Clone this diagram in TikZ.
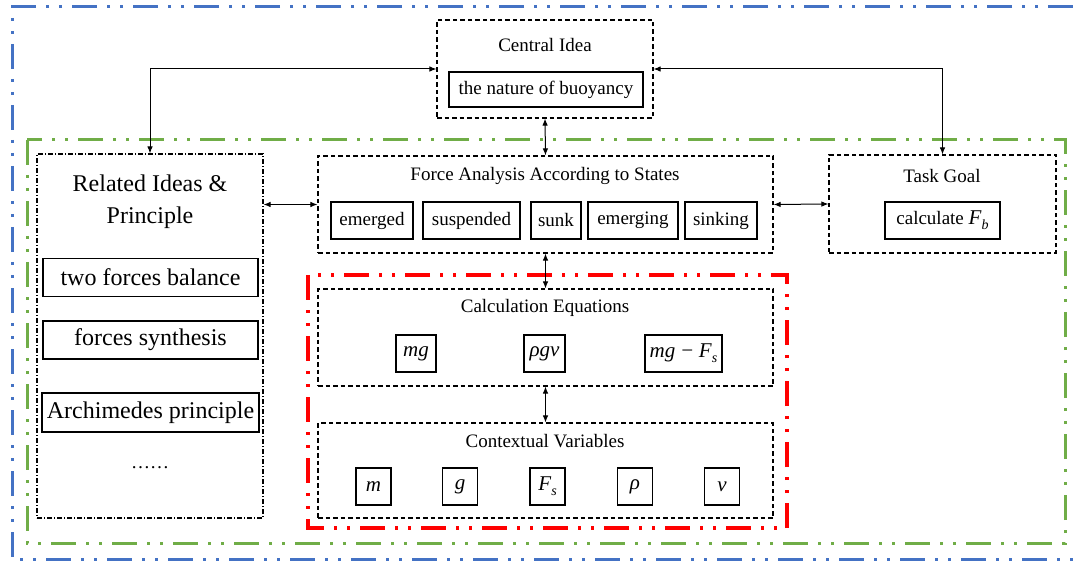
\documentclass[tikz,border=0pt]{standalone}
\usepackage{fontspec}
\setmainfont{Liberation Serif}
\usepackage{tikz}
\usetikzlibrary{arrows.meta}

\definecolor{frameblue}{RGB}{68,114,196}
\definecolor{framegreen}{RGB}{112,173,71}
\definecolor{framered}{RGB}{255,0,0}

\newcommand{\var}[1]{{\fontsize{21}{22}\selectfont\textit{#1}}}
\newcommand{\sub}[2]{\var{#1}\raisebox{-0.25em}{\fontsize{14}{15}\selectfont\textit{#2}}}

\begin{document}
\begin{tikzpicture}[x = 1pt, y = -1pt,
		group/.style = {draw, line width = 1.1pt, dash pattern = on 4.5pt off 3pt, inner sep = 0pt},
		item/.style = {draw, line width = 1.2pt, inner sep = 0pt, minimum height = 37pt, font = \fontsize{19}{22}\selectfont},
		bigitem/.style = {item, minimum width = 215pt, minimum height = 38pt, font = \fontsize{24}{28}\selectfont},
		title/.style = {inner sep = 0pt, font = \fontsize{19}{22}\selectfont},
		frame/.style = {line width = 3pt, dash pattern = on 25pt off 10pt on 3pt off 10pt on 3pt off 10pt},
		conn/.style = {line width = 1pt, {Latex[length=7pt,width=5.5pt]}-{Latex[length=7pt,width=5.5pt]}}]

			\useasboundingbox (0,0) rectangle (1073,561);

			% outer frames
			\begin{scope}
				\draw [frame, color = frameblue] (1073,7) -- (12,7) -- (12,559) -- (1073,559);
				\draw [frame, color = framegreen] (27,140) rectangle (1065,543);
				\draw [frame, color = framered, line width = 3.4pt] (308,275) rectangle (787,528);
			\end{scope}

			% central idea
			\node [group, minimum width = 216pt, minimum height = 98pt] (central) at (545,69) {};
			\node [title] (centraltitle) at (545,45) {Central Idea};
			\node [item, minimum width = 194pt, minimum height = 35pt] (nature) at (546,89.5) {the nature of buoyancy};

			% related ideas
			\node [group, dash pattern = on 5pt off 2pt on 1pt off 2pt, minimum width = 226pt, minimum height = 364pt] (related) at (150,336) {};
			\node [title, align = center, font = \fontsize{24}{32}\selectfont] (relatedtitle) at (150,202) {Related Ideas \&\\Principle};
			\node [bigitem] (balance) at (150.5,277.5) {two forces balance};
			\node [bigitem] (synthesis) at (150.5,340) {forces synthesis};
			\node [bigitem, minimum width = 217pt, minimum height = 39pt] (archimedes) at (150.5,412.5) {Archimedes principle};
			\node [title] (more) at (150,468) {……};

			% force analysis
			\node [group, minimum width = 455pt, minimum height = 97pt] (force) at (545.5,204.5) {};
			\node [title] (forcetitle) at (545,176) {Force Analysis According to States};
			\node [item, minimum width = 82pt] (emerged) at (372,220.5) {emerged};
			\node [item, minimum width = 97pt] (suspended) at (471.5,220.5) {suspended};
			\node [item, minimum width = 50pt] (sunk) at (556,220.5) {sunk};
			\node [item, minimum width = 90pt] (emerging) at (633,220.5) {emerging};
			\node [item, minimum width = 72pt] (sinking) at (721,220.5) {sinking};

			% task goal
			\node [group, minimum width = 227pt, minimum height = 98pt] (task) at (942.5,204) {};
			\node [title] (tasktitle) at (942,176) {Task Goal};
			\node [item, minimum width = 115pt] (goal) at (942.5,220.5) {calculate \sub{F}{b}};

			% calculation equations
			\node [group, minimum width = 455pt, minimum height = 97pt] (calc) at (545.5,337.5) {};
			\node [title] (calctitle) at (545,308) {Calculation Equations};
			\node [item, minimum width = 40pt] (eqweight) at (416,353.5) {\var{mg}};
			\node [item, minimum width = 41pt] (eqbuoy) at (544.5,353.5) {\var{ρgv}};
			\node [item, minimum width = 77pt] (eqdiff) at (683.5,353.5) {\var{mg} \var{−} \sub{F}{s}};

			% contextual variables
			\node [group, minimum width = 455pt, minimum height = 95pt] (context) at (545.5,470.5) {};
			\node [title] (contexttitle) at (545,441) {Contextual Variables};
			\node [item, minimum width = 35pt] (varm) at (373.5,486.5) {\var{m}};
			\node [item, minimum width = 35pt] (varg) at (460,486.5) {\var{g}};
			\node [item, minimum width = 35pt] (varf) at (547.5,486.5) {\sub{F}{s}};
			\node [item, minimum width = 35pt] (varrho) at (635,486.5) {\var{ρ}};
			\node [item, minimum width = 35pt] (varv) at (722,486.5) {\var{v}};

			% connectors
			\begin{scope}[conn]
				\draw (central.west) -| (related.north);
				\draw (central.east) -| (task.north);
				\draw (central.south) -- (force.north);
				\draw (related.east |- force.west) -- (force.west);
				\draw (force.east) -- (task.west);
				\draw (force.south) -- (calc.north);
				\draw (calc.south) -- (context.north);
			\end{scope}
		\end{tikzpicture}
\end{document}
